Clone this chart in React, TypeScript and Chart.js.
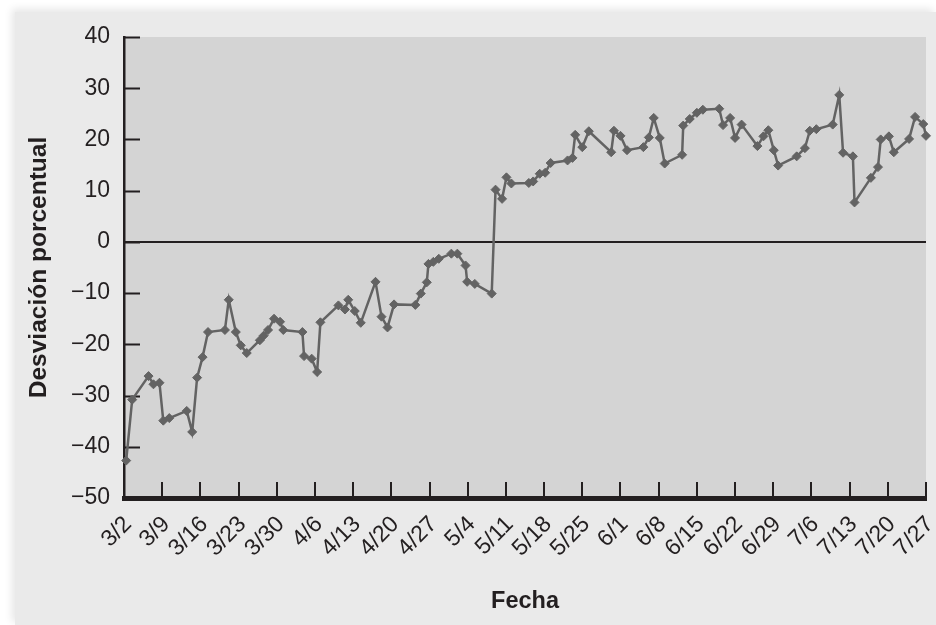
import { useEffect, useRef } from "react";
import { Chart, registerables } from "chart.js";

Chart.register(...registerables);

// Week labels on the x axis (day 0 = 3/2, one label every 7 days)
const tickLabels = [
  "3/2", "3/9", "3/16", "3/23", "3/30", "4/6", "4/13", "4/20", "4/27", "5/4", "5/11",
  "5/18", "5/25", "6/1", "6/8", "6/15", "6/22", "6/29", "7/6", "7/13", "7/20", "7/27",
];

// Days elapsed since 3/2 for each observation
const dayOffsets = [
  0.4, 1.5, 4.5, 5.4, 6.5, 7.2, 8.3, 11.5, 12.5, 13.4,
  14.4, 15.4, 18.5, 19.2, 20.5, 21.4, 22.5, 24.9, 25.6, 26.4,
  27.5, 28.6, 29.2, 32.7, 33.0, 34.4, 35.4, 36.0, 39.3, 40.5,
  41.1, 42.3, 43.4, 46.1, 47.2, 48.3, 49.5, 53.4, 54.4, 55.5,
  55.8, 56.7, 57.7, 60.0, 61.1, 62.6, 62.9, 64.3, 67.4, 68.1,
  69.3, 70.1, 71.0, 74.2, 75.0, 76.2, 77.2, 78.2, 81.3, 82.2,
  82.7, 84.0, 85.2, 89.3, 89.8, 91.0, 92.2, 95.2, 96.2, 97.1,
  98.2, 99.1, 102.3, 102.5, 103.7, 105.0, 106.1, 109.1, 109.8, 111.1,
  112.0, 113.2, 116.1, 117.2, 118.1, 119.1, 119.9, 123.3, 124.8, 125.7,
  126.9, 129.9, 131.1, 131.8, 133.6, 133.9, 136.9, 138.2, 138.7, 140.2,
  141.1, 143.9, 145.0, 146.5, 147.0,
];

// Percentage deviation (Desviación porcentual)
const deviations = [
  -42.7, -30.8, -26.2, -27.8, -27.5, -34.9, -34.4, -33.0, -37.1, -26.5,
  -22.5, -17.6, -17.2, -11.3, -17.6, -20.2, -21.7, -19.2, -18.3, -17.2,
  -15.0, -15.6, -17.2, -17.6, -22.3, -22.8, -25.4, -15.7, -12.4, -13.2,
  -11.3, -13.5, -15.8, -7.8, -14.6, -16.7, -12.2, -12.3, -10.1, -7.9,
  -4.3, -3.9, -3.3, -2.3, -2.3, -4.6, -7.8, -8.2, -10.1, 10.2,
  8.4, 12.6, 11.4, 11.5, 11.8, 13.3, 13.5, 15.4, 15.9, 16.4,
  20.9, 18.5, 21.6, 17.5, 21.7, 20.7, 17.9, 18.5, 20.4, 24.2,
  20.3, 15.3, 17.0, 22.7, 24.0, 25.2, 25.8, 26.0, 22.8, 24.2,
  20.3, 22.9, 18.7, 20.6, 21.8, 17.9, 14.9, 16.7, 18.3, 21.7,
  22.0, 22.9, 28.7, 17.4, 16.7, 7.7, 12.5, 14.6, 20.0, 20.6,
  17.5, 20.1, 24.4, 23.0, 20.7,
];

const INK = "#231f20";
const SERIES = "#636363";
const PLOT_BG = "#d4d4d4";
const FONT = "'Liberation Sans', Arial, Helvetica, sans-serif";

export default function App() {
  const ref = useRef<HTMLCanvasElement>(null);

  useEffect(() => {
    document.body.style.margin = "0";
    const canvas = ref.current;
    if (!canvas) return;

    const frame = {
      id: "frame",
      beforeDraw(chart: any) {
        const { ctx, chartArea: a } = chart;
        ctx.save();
        ctx.fillStyle = PLOT_BG;
        ctx.fillRect(a.left, a.top, a.right - a.left, a.bottom - a.top);
        ctx.restore();
      },
      beforeDatasetsDraw(chart: any) {
        const { ctx, chartArea: a, scales } = chart;
        const x = scales.x;
        const y = scales.y;
        ctx.save();
        ctx.strokeStyle = INK;
        ctx.lineWidth = 2;
        // inside tick marks on y
        y.ticks.forEach((t: any) => {
          const py = Math.round(y.getPixelForValue(t.value)) + 0.5;
          ctx.beginPath();
          ctx.moveTo(a.left, py);
          ctx.lineTo(a.left + 16, py);
          ctx.stroke();
        });
        // inside tick marks on x
        x.ticks.forEach((t: any) => {
          const px = Math.round(x.getPixelForValue(t.value));
          ctx.beginPath();
          ctx.moveTo(px, a.bottom);
          ctx.lineTo(px, a.bottom - 16);
          ctx.stroke();
        });
        // zero line
        const z = Math.round(y.getPixelForValue(0));
        ctx.beginPath();
        ctx.moveTo(a.left, z);
        ctx.lineTo(a.right, z);
        ctx.stroke();
        ctx.restore();
      },
    };

    const chart = new Chart(canvas, {
      type: "line",
      data: {
        datasets: [
          {
            data: dayOffsets.map((d, i) => ({ x: d, y: deviations[i] })),
            borderColor: SERIES,
            backgroundColor: SERIES,
            borderWidth: 2.5,
            pointStyle: "rectRot",
            pointRadius: 4.5,
            pointBorderWidth: 1,
            pointBorderColor: SERIES,
            pointBackgroundColor: SERIES,
            tension: 0,
            clip: false,
          } as any,
        ],
      },
      options: {
        animation: false,
        responsive: false,
        devicePixelRatio: 1,
        layout: { padding: { top: 37, right: 10, left: 0, bottom: 0 } },
        plugins: {
          legend: { display: false },
          tooltip: { enabled: false },
        },
        scales: {
          x: {
            type: "linear",
            min: 0,
            max: 147,
            afterFit(s: any) {
              s.height = 127;
              s.paddingRight = 0;
              s.paddingLeft = 0;
            },
            grid: { display: false, drawTicks: false },
            border: { display: true, color: INK, width: 5 },
            ticks: {
              stepSize: 7,
              autoSkip: false,
              maxRotation: 45,
              minRotation: 45,
              padding: 13,
              labelOffset: 4,
              color: INK,
              font: { family: FONT, size: 23 },
              callback: (v: any) => tickLabels[Math.round(Number(v) / 7)] ?? "",
            },
            title: {
              display: true,
              text: "Fecha",
              color: INK,
              font: { family: FONT, size: 23.5, weight: "bold" },
              padding: { top: 0, bottom: 9 },
            },
          },
          y: {
            min: -50,
            max: 40,
            afterFit(s: any) {
              s.width = 124;
            },
            grid: { display: false, drawTicks: false },
            border: { display: true, color: INK, width: 2.5 },
            ticks: {
              stepSize: 10,
              padding: 14,
              color: INK,
              font: { family: FONT, size: 23 },
              callback: (v: any) => (Number(v) < 0 ? "\u2212" + Math.abs(Number(v)) : String(v)),
            },
            title: {
              display: true,
              text: "Desviación porcentual",
              color: INK,
              font: { family: FONT, size: 24.5, weight: "bold" },
              padding: { top: 25, bottom: 0 },
            },
          },
        },
      },
      plugins: [frame],
    });

    return () => chart.destroy();
  }, []);

  return (
    <div style={{ position: "relative", width: 936, height: 625, background: "#ffffff", overflow: "hidden" }}>
      <div
        style={{
          position: "absolute",
          left: 15,
          top: 12,
          right: 0,
          bottom: 0,
          background: "#eaeaea",
          boxShadow: "-3px -3px 8px rgba(0,0,0,0.10)",
        }}
      />
      <canvas
        ref={ref}
        width={936}
        height={625}
        style={{ position: "absolute", left: 0, top: 0, width: 936, height: 625 }}
      />
    </div>
  );
}
